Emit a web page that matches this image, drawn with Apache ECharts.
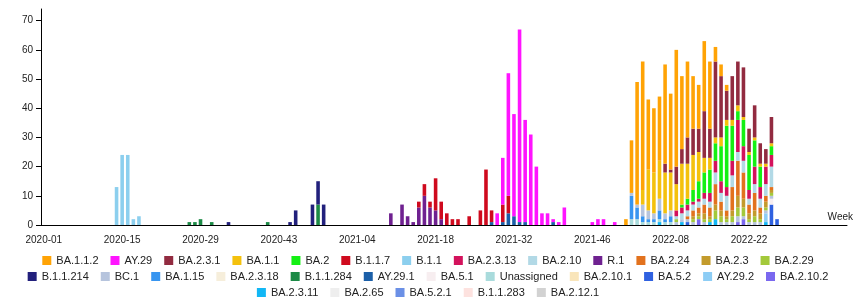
<!DOCTYPE html>
<html>
<head>
<meta charset="utf-8">
<script src="https://cdn.jsdelivr.net/npm/echarts@6/dist/echarts.min.js"></script>
<style>
  html, body { margin: 0; padding: 0; background: #fff; }
  #chart { width: 856px; height: 299px; }
</style>
</head>
<body>
<div id="chart"></div>
<script>
// weekly categories, 2020-01 .. 2022-39 (axis runs on past the last tick)
const weeks = []
;[[2020, 53], [2021, 52], [2022, 39]].forEach(([y, n]) => {
  for (let w = 1; w <= n; w++) weeks.push(y + '-' + String(w).padStart(2, '0'))
})
const tickLabels = ['2020-01', '2020-15', '2020-29', '2020-43', '2021-04', '2021-18', '2021-32', '2021-46', '2022-08', '2022-22']
const lastTickWeek = '2022-29'

// legend rows (also the stacking order, top of the stack first)
const legendRow1 = ['BA.1.1.2', 'AY.29', 'BA.2.3.1', 'BA.1.1', 'BA.2', 'B.1.1.7', 'B.1.1', 'BA.2.3.13', 'BA.2.10', 'R.1', 'BA.2.24', 'BA.2.3', 'BA.2.29']
const legendRow2 = ['B.1.1.214', 'BC.1', 'BA.1.15', 'BA.2.3.18', 'B.1.1.284', 'AY.29.1', 'BA.5.1', 'Unassigned', 'BA.2.10.1', 'BA.5.2', 'AY.29.2', 'BA.2.10.2']
const legendRow3 = ['BA.2.3.11', 'BA.2.65', 'BA.5.2.1', 'B.1.1.283', 'BA.2.12.1']

// 2020 - 2021 lineages (each starts at the week noted)
const b_1_1 = [13, 24, 24, 2, 3]                                                          // 2020-14
const b_1_1_284 = [1, 1, 2, 0, 1, 0, 0, 0, 0, 0, 0, 0, 0, 0, 1, 0, 0, 0, 0, 0, 0, 0, 0, 7] // 2020-27
const b_1_1_214 = [1, 0, 0, 0, 0, 0, 0, 0, 0, 0, 0, 1, 5, 0, 0, 7, 8, 7]                   // 2020-34
const r_1 = [4, 0, 7, 3, 1, 6, 10, 6, 5, 2]                                               // 2021-10
const b_1_1_7 = [2, 4, 2, 11, 6, 4, 2, 2, 0, 3, 0, 5, 19, 4, 0, 6, 6]                     // 2021-15
const ay_29_1 = [1, 0, 1, 4, 3, 1, 1, 0, 0, 0, 0, 1]                                      // 2021-28
const ay_29 = [4, 16, 42, 35, 66, 35, 31, 20, 4, 4, 1, 1, 6, 0, 0, 0, 0, 1, 2, 2, 0, 1]   // 2021-29

// omicron era, all from 2021-52
const ba_1_1_2 = [2, 18, 42, 44, 24, 22, 22, 34, 26, 40, 25, 26, 18, 15, 24, 23, 5, 4, 2, 0, 0, 0, 0, 0, 0, 0, 0, 0]
const ba_2_3_1 = [0, 0, 0, 0, 0, 0, 0, 3, 1, 6, 5, 9, 9, 8, 16, 10, 26, 21, 10, 15, 15, 17, 8, 11, 7, 5, 9, 0]
const ba_1_1 = [0, 0, 0, 5, 14, 14, 13, 14, 13, 9, 14, 12, 12, 10, 5, 4, 2, 3, 2, 2, 2, 1, 1, 1, 1, 1, 1, 0]
const ba_2 = [0, 0, 0, 0, 0, 0, 0, 0, 0, 0, 1, 2, 4, 6, 7, 8, 6, 12, 21, 12, 3, 9, 12, 9, 7, 0, 3, 0]
const ba_2_3_13 = [0, 0, 0, 0, 0, 0, 0, 0, 0, 2, 2, 2, 1, 1, 2, 3, 4, 4, 3, 5, 11, 5, 3, 6, 4, 6, 4, 0]
const ba_2_10 = [0, 0, 0, 0, 0, 0, 0, 0, 0, 1, 2, 2, 2, 2, 2, 2, 4, 3, 5, 4, 3, 4, 2, 3, 3, 4, 7, 0]
const ba_2_24 = [0, 0, 0, 0, 0, 0, 0, 0, 0, 0, 0, 1, 2, 2, 3, 3, 7, 3, 2, 8, 12, 9, 3, 6, 2, 2, 1, 0]
const ba_2_3 = [0, 0, 0, 0, 0, 0, 0, 0, 0, 0, 0, 0, 1, 1, 2, 1, 2, 2, 1, 2, 4, 3, 2, 2, 2, 2, 1, 0]
const ba_2_29 = [0, 0, 0, 0, 0, 0, 0, 0, 0, 1, 0, 0, 1, 1, 1, 1, 3, 2, 1, 2, 3, 3, 1, 2, 1, 1, 1, 0]
const bc_1 = [0, 1, 1, 4, 3, 2, 4, 2, 2, 1, 1, 1, 1, 0, 1, 0, 0, 1, 1, 1, 2, 1, 1, 1, 1, 1, 1, 0]
const ba_1_15 = [0, 8, 4, 2, 1, 1, 3, 1, 2]
const unassigned = [0, 2, 2, 1, 1, 1, 1, 1, 1]
const ba_2_3_11 = [0, 0, 0, 0, 0, 0, 1, 0, 0, 0, 1, 0, 0, 0, 0, 1, 2, 0, 0, 0, 0, 0, 0, 0, 0, 1, 0, 0]
const ba_2_10_2 = [0, 0, 0, 0, 0, 0, 0, 0, 0, 0, 0, 0, 0, 2, 0, 0, 0, 0, 0, 0, 1, 2, 0, 0, 0, 0, 0, 0]
const ba_5_2 = [0, 0, 0, 0, 0, 0, 0, 0, 0, 0, 0, 1, 0, 0, 0, 0, 0, 0, 0, 0, 0, 0, 0, 0, 0, 0, 7, 2]
const ay_29_2 = [0, 0, 0, 0, 0, 0, 0, 0, 0, 0, 0, 0, 0, 0, 0, 0, 0, 0, 0, 0, 0, 0, 0, 0, 0, 3, 0, 0]
const ba_5_1 = [0, 0, 0, 0, 0, 0, 0, 0, 0, 0, 0, 0, 0, 0, 0, 0, 0, 0, 0, 0, 0, 0, 0, 0, 0, 0, 2, 0]

const colors = {
  'BA.1.1.2': '#ffa305', 'AY.29': '#ff14ff', 'BA.2.3.1': '#922b40', 'BA.1.1': '#f4c10d', 'BA.2': '#14f014',
  'B.1.1.7': '#cf0a1e', 'B.1.1': '#8ccfee', 'BA.2.3.13': '#d3125c', 'BA.2.10': '#b2d9e6', 'R.1': '#6f2190',
  'BA.2.24': '#e2721e', 'BA.2.3': '#c39b2c', 'BA.2.29': '#a3c93b', 'B.1.1.214': '#22207c', 'BC.1': '#b6c4dd',
  'BA.1.15': '#3795f0', 'BA.2.3.18': '#f6eedb', 'B.1.1.284': '#1c8a46', 'AY.29.1': '#1b5fa8', 'BA.5.1': '#f7eef0',
  'Unassigned': '#a9dbdc', 'BA.2.10.1': '#f9e5ba', 'BA.5.2': '#2f61e0', 'AY.29.2': '#8dcdf5', 'BA.2.10.2': '#7a68ef',
  'BA.2.3.11': '#12b7f5', 'BA.2.65': '#eeeeee', 'BA.5.2.1': '#6b90e6', 'B.1.1.283': '#fde2df', 'BA.2.12.1': '#d2d2d2'
}

const N = weeks.length
function place (start, values) {
  const arr = new Array(N).fill(0)
  const s = weeks.indexOf(start)
  values.forEach((v, k) => { arr[s + k] = v })
  return arr
}

const lineageData = {
  'B.1.1': place('2020-14', b_1_1),
  'B.1.1.284': place('2020-27', b_1_1_284),
  'B.1.1.214': place('2020-34', b_1_1_214),
  'R.1': place('2021-10', r_1),
  'B.1.1.7': place('2021-15', b_1_1_7),
  'AY.29.1': place('2021-28', ay_29_1),
  'AY.29': place('2021-29', ay_29),
  'BA.1.1.2': place('2021-52', ba_1_1_2),
  'BA.2.3.1': place('2021-52', ba_2_3_1),
  'BA.1.1': place('2021-52', ba_1_1),
  'BA.2': place('2021-52', ba_2),
  'BA.2.3.13': place('2021-52', ba_2_3_13),
  'BA.2.10': place('2021-52', ba_2_10),
  'BA.2.24': place('2021-52', ba_2_24),
  'BA.2.3': place('2021-52', ba_2_3),
  'BA.2.29': place('2021-52', ba_2_29),
  'BC.1': place('2021-52', bc_1),
  'BA.1.15': place('2021-52', ba_1_15),
  'Unassigned': place('2021-52', unassigned),
  'BA.2.3.11': place('2021-52', ba_2_3_11),
  'BA.2.10.2': place('2021-52', ba_2_10_2),
  'BA.5.2': place('2021-52', ba_5_2),
  'AY.29.2': place('2021-52', ay_29_2),
  'BA.5.1': place('2021-52', ba_5_1)
}

const allNames = legendRow1.concat(legendRow2, legendRow3)
const lastTick = weeks.indexOf(lastTickWeek)

// first series sits at the bottom of the stack
const series = allNames.slice().reverse().map(name => ({
  name: name,
  type: 'bar',
  stack: 'total',
  barWidth: '64%',
  itemStyle: { color: colors[name] },
  data: lineageData[name] || new Array(N).fill(0)
}))

const legendBase = {
  left: 'center',
  padding: 0,
  icon: 'rect',
  itemWidth: 9,
  itemHeight: 9,
  itemGap: 12,
  selectedMode: false,
  textStyle: { fontSize: 11, color: '#222', fontFamily: 'Liberation Sans' }
}

const chart = echarts.init(document.getElementById('chart'))
chart.setOption({
  animation: false,
  textStyle: { fontFamily: 'Liberation Sans' },
  color: allNames.map(n => colors[n]),
  legend: [
    { ...legendBase, top: 255, data: legendRow1 },
    { ...legendBase, top: 271, data: legendRow2 },
    { ...legendBase, top: 287, data: legendRow3 }
  ],
  grid: { left: 41, right: 3, top: 9, bottom: 74, containLabel: false },
  xAxis: {
    type: 'category',
    data: weeks,
    boundaryGap: true,
    name: 'Week',
    nameLocation: 'end',
    nameGap: 6,
    nameTextStyle: { fontSize: 10, color: '#222', align: 'right', verticalAlign: 'bottom', padding: [0, 0, 3, 0] },
    axisLine: { lineStyle: { color: '#000', width: 1 } },
    axisTick: {
      alignWithLabel: true,
      length: 5,
      interval: (i) => i <= lastTick,
      lineStyle: { color: '#000' }
    },
    axisLabel: {
      interval: (i, v) => tickLabels.includes(v),
      fontSize: 10,
      color: '#222',
      margin: 10
    }
  },
  yAxis: {
    type: 'value',
    min: 0,
    max: 74,
    interval: 10,
    axisLine: { show: true, lineStyle: { color: '#000', width: 1 } },
    axisTick: { show: true, length: 5, lineStyle: { color: '#000' } },
    axisLabel: { fontSize: 10, color: '#222', margin: 8, showMaxLabel: false },
    splitLine: { show: false }
  },
  series: series
})
</script>
</body>
</html>
